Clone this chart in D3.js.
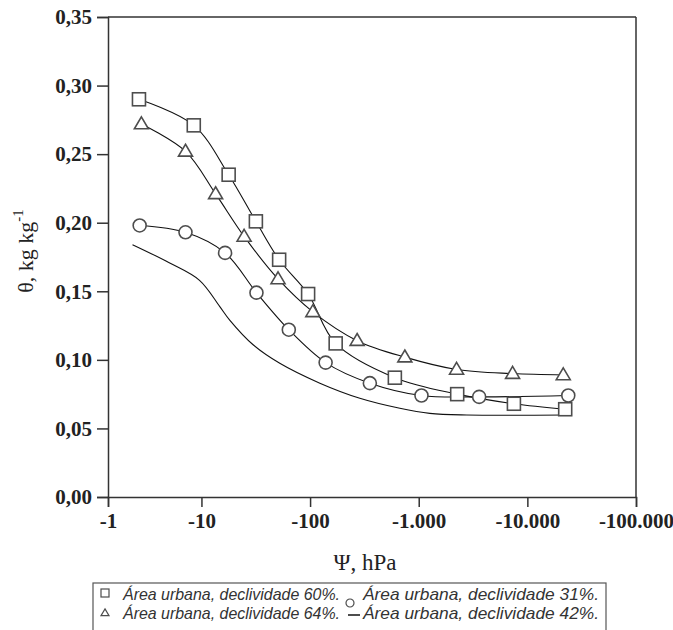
<!DOCTYPE html>
<html>
<head>
<meta charset="utf-8">
<script src="https://cdn.jsdelivr.net/npm/d3@7"></script>
<style>
  body { margin: 0; background: #fff; }
  svg { display: block; }
</style>
</head>
<body>
<script>
// suction (hPa, absolute value) and water content for each slope
var sq60Psi = [2.66, 8.5, 17.8, 31.7, 51.9, 95.9, 172, 603, 2260, 7520, 22300];
var sq60Theta = [0.290, 0.271, 0.235, 0.201, 0.173, 0.148, 0.112, 0.087, 0.075, 0.068, 0.064];

var tri64Psi = [2.80, 7.13, 13.5, 24.7, 50.7, 106, 271, 745, 2230, 7310, 21400];
var tri64Theta = [0.272, 0.252, 0.221, 0.190, 0.159, 0.135, 0.114, 0.102, 0.093, 0.090, 0.089];

var cir31Psi = [2.70, 7.13, 16.5, 32.1, 63.7, 139, 355, 1060, 3600, 23800];
var cir31Theta = [0.198, 0.193, 0.178, 0.149, 0.122, 0.098, 0.083, 0.074, 0.073, 0.074];

// 42% has only the fitted line
var line42Psi = [2.32, 5.0, 9.6, 14.7, 18.2, 29.9, 52.6, 123, 287, 670, 1265, 2760, 22600];
var line42Theta = [0.184, 0.171, 0.158, 0.139, 0.129, 0.111, 0.0975, 0.083, 0.072, 0.0647, 0.061, 0.0598, 0.0598];

var xTicks = [1.38, 10, 100, 1000, 10000, 100000];
var xTickLabels = ["-1", "-10", "-100", "-1.000", "-10.000", "-100.000"];
var yTicks = [0, 0.05, 0.10, 0.15, 0.20, 0.25, 0.30, 0.35];
var yTickLabels = ["0,00", "0,05", "0,10", "0,15", "0,20", "0,25", "0,30", "0,35"];

var legendLabels = [
	"Área urbana, declividade 60%.",
	"Área urbana, declividade 31%.",
	"Área urbana, declividade 64%.",
	"Área urbana, declividade 42%."
];

var W = 673, H = 630;
var margin = {top: 17, left: 108, right: 37, bottom: 133};
var iw = W - margin.left - margin.right;
var ih = H - margin.top - margin.bottom;

var svg = d3.select("body")
	.append("svg")
	.attr("width", W)
	.attr("height", H);

var g = svg.append("g")
	.attr("transform", "translate(" + margin.left + "," + margin.top + ")");

var x = d3.scaleLog().domain([xTicks[0], 100000]).range([0, iw]);
var y = d3.scaleLinear().domain([0, 0.35]).range([ih, 0]);

var axisColor = "#333";
var markColor = "#4d4d4d";

// frame (top and right)
g.append("line").attr("x1", 0).attr("x2", iw).attr("y1", 0).attr("y2", 0)
	.style("stroke", axisColor).style("stroke-width", 1.5);
g.append("line").attr("x1", iw).attr("x2", iw).attr("y1", 0).attr("y2", ih)
	.style("stroke", axisColor).style("stroke-width", 1.5);

var yAxis = g.append("g")
	.call(d3.axisLeft(y).tickValues(yTicks).tickSize(11).tickPadding(5)
		.tickFormat(function(d, i) { return yTickLabels[i]; }));

var xAxis = g.append("g")
	.attr("transform", "translate(0," + ih + ")")
	.call(d3.axisBottom(x).tickValues(xTicks).tickSize(10).tickPadding(6)
		.tickFormat(function(d, i) { return xTickLabels[i]; }));

[yAxis, xAxis].forEach(function(a) {
	a.select(".domain").style("stroke", axisColor).style("stroke-width", 1.5);
	a.selectAll(".tick line").style("stroke", axisColor).style("stroke-width", 1.5);
	a.selectAll(".tick text")
		.style("font-family", "'Liberation Serif', 'Times New Roman', serif")
		.style("font-weight", "bold")
		.style("font-size", "21px")
		.style("fill", "#222");
});

// axis titles
svg.append("text")
	.attr("x", 365)
	.attr("y", 570)
	.attr("text-anchor", "middle")
	.style("font-family", "'Liberation Serif', 'Times New Roman', serif")
	.style("font-size", "23px")
	.style("fill", "#222")
	.text("Ψ, hPa");

var ylab = svg.append("text")
	.attr("transform", "translate(33,251) rotate(-90)")
	.attr("text-anchor", "middle")
	.style("font-family", "'Liberation Serif', 'Times New Roman', serif")
	.style("font-size", "22px")
	.style("fill", "#222");
ylab.append("tspan").text("θ, kg kg");
ylab.append("tspan").attr("dy", -10).style("font-size", "15px").text("-1");

var line = d3.line()
	.x(function(d) { return x(d[0]); })
	.y(function(d) { return y(d[1]); })
	.curve(d3.curveCatmullRom.alpha(0.5));

function pairs(a, b) {
	return a.map(function(v, i) { return [v, b[i]]; });
}

var series = [
	{pts: pairs(sq60Psi, sq60Theta), shape: "square"},
	{pts: pairs(tri64Psi, tri64Theta), shape: "triangle"},
	{pts: pairs(cir31Psi, cir31Theta), shape: "circle"},
	{pts: pairs(line42Psi, line42Theta), shape: "none"}
];

series.forEach(function(s) {
	g.append("path")
		.datum(s.pts)
		.attr("d", line)
		.style("fill", "none")
		.style("stroke", "#111")
		.style("stroke-width", 1.1);
});

function drawMarker(sel, shape, size) {
	if (shape == "square") {
		sel.append("rect")
			.attr("x", -size / 2).attr("y", -size / 2)
			.attr("width", size).attr("height", size);
	} else if (shape == "triangle") {
		var h = size * 0.85;
		sel.append("path")
			.attr("d", "M0," + (-h * 0.6) + "L" + (size / 2) + "," + (h * 0.4) + "L" + (-size / 2) + "," + (h * 0.4) + "Z");
	} else if (shape == "circle") {
		sel.append("circle").attr("r", size / 2);
	}
	sel.selectAll("rect, path, circle")
		.style("fill", "#fff")
		.style("stroke", markColor)
		.style("stroke-width", 1.6);
}

series.forEach(function(s) {
	if (s.shape == "none") return;
	g.selectAll(".m-" + s.shape)
		.data(s.pts)
		.enter()
		.append("g")
		.attr("class", "m-" + s.shape)
		.attr("transform", function(d) { return "translate(" + x(d[0]) + "," + y(d[1]) + ")"; })
		.each(function() { drawMarker(d3.select(this), s.shape, s.shape == "triangle" ? 14 : 13); });
});

// legend
var lg = svg.append("g");
lg.append("rect")
	.attr("x", 93).attr("y", 583)
	.attr("width", 513).attr("height", 60)
	.style("fill", "#fff")
	.style("stroke", "#555")
	.style("stroke-width", 1.2);

var legendItems = [
	{shape: "square", mx: 105, my: 593, tx: 123, ty: 600, tw: 217, label: legendLabels[0]},
	{shape: "circle", mx: 350, my: 603, tx: 363, ty: 600, tw: 236, label: legendLabels[1]},
	{shape: "triangle", mx: 105, my: 613, tx: 123, ty: 619, tw: 217, label: legendLabels[2]},
	{shape: "dash", mx: 354, my: 615, tx: 363, ty: 619, tw: 236, label: legendLabels[3]}
];

legendItems.forEach(function(it) {
	var m = lg.append("g").attr("transform", "translate(" + it.mx + "," + it.my + ")");
	if (it.shape == "dash") {
		m.append("line").attr("x1", -6).attr("x2", 6)
			.style("stroke", "#222").style("stroke-width", 1.6);
	} else {
		drawMarker(m, it.shape, 8);
		m.selectAll("rect, path, circle").style("stroke-width", 1.2);
	}
	lg.append("text")
		.attr("x", it.tx).attr("y", it.ty)
		.attr("textLength", it.tw)
		.attr("lengthAdjust", "spacingAndGlyphs")
		.style("font-family", "'Liberation Sans', Arial, sans-serif")
		.style("font-style", "italic")
		.style("font-size", "16.5px")
		.style("fill", "#333")
		.text(it.label);
});
</script>
</body>
</html>
